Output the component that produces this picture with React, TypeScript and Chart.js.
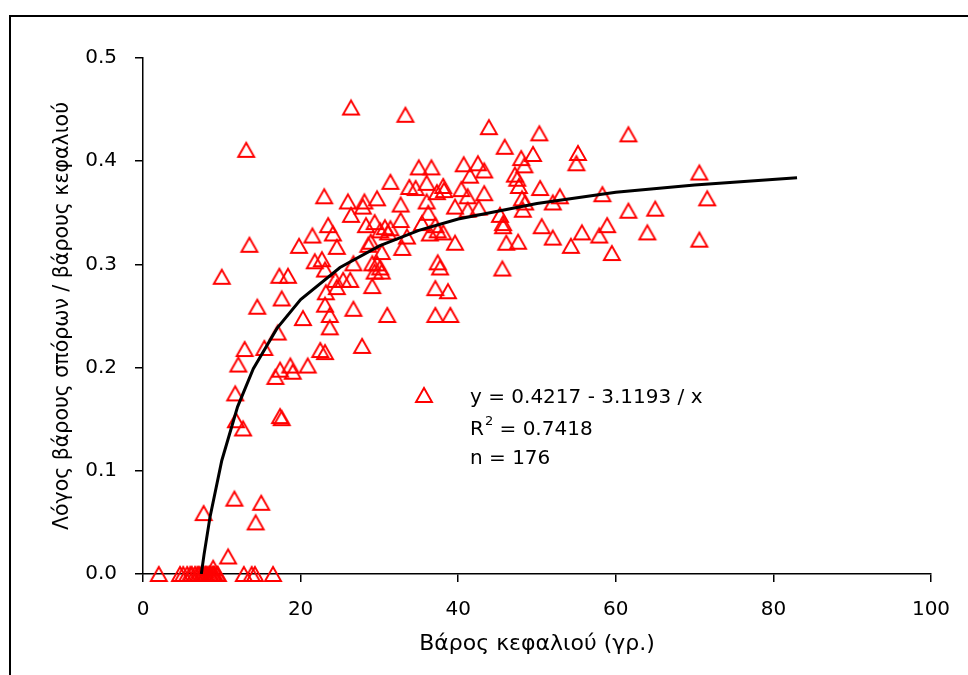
import React, { useEffect, useRef } from 'react';
import Chart from 'chart.js/auto';

// Head weight (g) — x values
const headWeight: number[] = [
  2.0, 4.7, 5.1, 5.6, 6.0, 6.2, 6.6, 6.9, 7.1, 7.4, 7.5, 7.7, 7.9, 8.0, 8.2, 8.4, 8.5, 8.6, 8.8, 8.9, 9.0, 9.1, 9.4, 9.5, 12.8, 13.8, 14.2, 16.5,
  7.7, 8.9, 10.8, 11.6, 15.0, 14.3, 11.7, 11.8, 12.7, 12.1, 12.9, 15.4, 17.4, 17.6, 16.8, 17.4, 18.7, 19.0, 20.9, 22.5, 23.1, 17.1, 14.5, 17.6, 20.3, 23.1, 23.7, 23.7, 27.8, 10.0, 17.3, 18.4, 13.5, 13.1, 19.8, 21.5, 23.0, 23.5, 24.1, 24.6, 21.8, 22.7, 23.1, 24.4, 23.2, 24.6,
  26.4, 31.4, 26.0, 28.1, 29.7, 27.9, 26.4, 28.3, 29.4, 30.1, 30.7, 31.1, 31.4, 28.6, 28.9, 30.3, 32.9, 26.7, 29.1, 29.7, 30.1, 29.4, 30.3, 25.4, 26.3, 29.1, 26.7, 31.0,
  33.3, 43.9, 45.9, 48.0, 48.4, 49.5, 40.7, 42.5, 43.3, 35.0, 36.6, 41.5, 47.2, 47.5, 36.0, 33.8, 34.6, 38.1, 38.2, 37.3, 40.4, 41.2, 43.3, 47.7, 48.1, 48.2, 48.5, 32.7, 36.0, 39.6, 42.6, 41.2, 36.2, 32.7, 35.4, 37.1, 37.4, 38.1, 36.4, 45.3, 45.7, 45.7, 33.5, 39.6, 46.1, 47.6, 37.4, 37.7, 45.6, 37.1, 38.7, 37.1, 39.0,
  50.3, 61.6, 55.2, 55.0, 70.6, 50.4, 52.9, 52.0, 58.3, 71.6, 61.6, 65.0, 50.6, 58.9, 55.7, 57.9, 64.0, 52.0, 54.3, 59.5, 70.6,
];

// Seed weight / head weight ratio — y values
const seedRatio: number[] = [
  0, 0, 0, 0, 0, 0, 0, 0, 0, 0, 0, 0, 0, 0, 0, 0, 0, 0, 0, 0, 0, 0, 0, 0, 0, 0, 0, 0,
  0.059, 0.006, 0.017, 0.073, 0.069, 0.050, 0.175, 0.149, 0.141, 0.203, 0.218, 0.219, 0.153, 0.151, 0.191, 0.198, 0.202, 0.196, 0.202, 0.217, 0.215, 0.234, 0.259, 0.267, 0.248, 0.261, 0.251, 0.239, 0.221, 0.288, 0.289, 0.289, 0.319, 0.411, 0.318, 0.328, 0.366, 0.338, 0.330, 0.317, 0.303, 0.305, 0.295, 0.285, 0.273, 0.278,
  0.452, 0.380, 0.361, 0.361, 0.364, 0.356, 0.348, 0.338, 0.341, 0.333, 0.336, 0.331, 0.335, 0.319, 0.322, 0.312, 0.316, 0.301, 0.301, 0.301, 0.297, 0.293, 0.293, 0.285, 0.285, 0.279, 0.257, 0.251,
  0.445, 0.433, 0.414, 0.403, 0.396, 0.407, 0.397, 0.398, 0.391, 0.394, 0.394, 0.386, 0.387, 0.383, 0.379, 0.375, 0.374, 0.376, 0.372, 0.370, 0.373, 0.366, 0.369, 0.376, 0.364, 0.353, 0.360, 0.358, 0.361, 0.356, 0.355, 0.353, 0.350, 0.343, 0.340, 0.338, 0.333, 0.331, 0.330, 0.348, 0.340, 0.337, 0.327, 0.321, 0.321, 0.322, 0.302, 0.297, 0.296, 0.277, 0.274, 0.251, 0.251,
  0.427, 0.426, 0.408, 0.398, 0.389, 0.374, 0.366, 0.360, 0.368, 0.364, 0.352, 0.354, 0.337, 0.338, 0.331, 0.328, 0.331, 0.326, 0.318, 0.311, 0.324,
];

// Fitted curve y = 0.4217 - 3.1193 / x (values listed)
const trendX: number[] = [7.4, 7.75, 8.5, 10, 12, 14, 17, 20, 25, 30, 35, 40, 50, 60, 70, 83];
const trendY: number[] = [0.0, 0.019, 0.055, 0.110, 0.162, 0.199, 0.238, 0.266, 0.297, 0.318, 0.333, 0.344, 0.359, 0.370, 0.377, 0.384];

const xTitle = 'Βάρος κεφαλιού (γρ.)';
const yTitle = 'Λόγος βάρους σπόρων / βάρους κεφαλιού';
const equationText = 'y = 0.4217 - 3.1193 / x';
const r2Label = 'R';
const r2Sup = '2';
const r2Value = ' = 0.7418';
const nText = 'n = 176';

const FONT = '"DejaVu Sans", sans-serif';

function makeTriangle(): HTMLCanvasElement {
  const c = document.createElement('canvas');
  c.width = 22;
  c.height = 20;
  const g = c.getContext('2d')!;
  g.strokeStyle = '#ff0000';
  g.lineWidth = 1.9;
  g.lineJoin = 'miter';
  g.beginPath();
  g.moveTo(3, 17);
  g.lineTo(11, 3);
  g.lineTo(19, 17);
  g.closePath();
  g.stroke();
  return c;
}

export default function App() {
  const ref = useRef<HTMLCanvasElement | null>(null);

  useEffect(() => {
    if (!ref.current) return;
    const tri = makeTriangle();

    const points = headWeight.map((x, i) => ({ x, y: seedRatio[i] }));
    const trend = trendX.map((x, i) => ({ x, y: trendY[i] }));

    const overlay = {
      id: 'overlay',
      afterDraw(chart: any) {
        const ctx = chart.ctx as CanvasRenderingContext2D;
        const ca = chart.chartArea;
        ctx.save();
        // outer frame
        ctx.strokeStyle = '#000';
        ctx.lineWidth = 2;
        ctx.beginPath();
        ctx.moveTo(10, chart.height);
        ctx.lineTo(10, 16);
        ctx.lineTo(chart.width, 16);
        ctx.stroke();
        // legend / statistics box
        const mx = ca.left + 281;
        const my = ca.top + 337;
        ctx.drawImage(tri, mx - tri.width / 2, my - tri.height / 2);
        const tx = ca.left + 327;
        ctx.fillStyle = '#000';
        ctx.textAlign = 'left';
        ctx.textBaseline = 'middle';
        ctx.font = `20px ${FONT}`;
        ctx.fillText(equationText, tx, my + 3);
        ctx.fillText(r2Label, tx, my + 35);
        const rw = ctx.measureText(r2Label).width;
        ctx.font = `13px ${FONT}`;
        ctx.fillText(r2Sup, tx + rw + 1, my + 27);
        const sw = ctx.measureText(r2Sup).width;
        ctx.font = `20px ${FONT}`;
        ctx.fillText(r2Value, tx + rw + sw + 1, my + 35);
        ctx.fillText(nText, tx, my + 64);
        ctx.restore();
      },
    };

    const chart = new Chart(ref.current, {
      type: 'scatter',
      data: {
        datasets: [
          {
            label: 'trend',
            data: trend,
            showLine: true,
            borderColor: '#000',
            borderWidth: 3,
            pointRadius: 0,
            tension: 0,
            fill: false,
          },
          {
            label: 'data',
            data: points,
            pointStyle: tri as any,
            pointRadius: 8,
            borderColor: '#ff0000',
            backgroundColor: 'rgba(0,0,0,0)',
            clip: false as any,
          },
        ],
      },
      options: {
        responsive: false,
        animation: false,
        devicePixelRatio: 1,
        layout: { padding: { left: 0, top: 58, right: 37, bottom: 0 } },
        plugins: {
          legend: { display: false },
          tooltip: { enabled: false },
          title: { display: false },
        },
        scales: {
          x: {
            type: 'linear',
            min: 0,
            max: 100,
            ticks: {
              stepSize: 20,
              color: '#000',
              font: { family: FONT, size: 20 },
              padding: 16,
              maxRotation: 0,
              callback: (v: any) => String(Math.round(Number(v))),
            },
            grid: { drawOnChartArea: false, drawTicks: true, tickLength: 8, color: '#000', lineWidth: 1.5 },
            border: { display: true, color: '#000', width: 1.5 },
            title: {
              display: true,
              text: xTitle,
              color: '#000',
              font: { family: FONT, size: 22 },
              padding: { top: 0, bottom: 18 },
            },
            afterFit: (s: any) => {
              s.height = 101;
            },
          },
          y: {
            type: 'linear',
            min: 0,
            max: 0.5,
            ticks: {
              stepSize: 0.1,
              color: '#000',
              font: { family: FONT, size: 20 },
              padding: 18,
              callback: (v: any) => Number(v).toFixed(1),
            },
            grid: { drawOnChartArea: false, drawTicks: true, tickLength: 8, color: '#000', lineWidth: 1.5 },
            border: { display: true, color: '#000', width: 1.5 },
            title: {
              display: true,
              text: yTitle,
              color: '#000',
              font: { family: FONT, size: 20.5 },
              padding: { top: 50, bottom: 0 },
            },
            afterFit: (s: any) => {
              s.width = 143;
            },
          },
        },
      },
      plugins: [overlay],
    } as any);

    return () => chart.destroy();
  }, []);

  return (
    <div style={{ position: 'absolute', left: 0, top: 0, width: 968, height: 675, background: '#fff' }}>
      <canvas ref={ref} width={968} height={675} style={{ display: 'block', width: 968, height: 675 }} />
    </div>
  );
}
